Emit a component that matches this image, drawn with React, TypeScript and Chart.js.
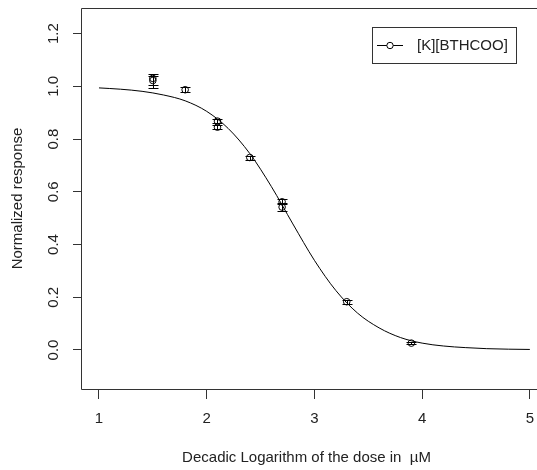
import { useEffect, useRef } from "react";
import { Chart, registerables } from "chart.js";

Chart.register(...registerables);

// Observed data (log10 dose, normalized response) with error bar limits
const pointX = [1.5, 1.5, 1.8, 2.1, 2.1, 2.4, 2.7, 2.7, 3.3, 3.9];
const pointY = [1.022, 1.03, 0.987, 0.868, 0.845, 0.73, 0.562, 0.542, 0.183, 0.026];
const errLow = [0.995, 1.005, 0.978, 0.86, 0.838, 0.722, 0.552, 0.527, 0.175, 0.022];
const errHigh = [1.045, 1.038, 0.996, 0.876, 0.852, 0.737, 0.572, 0.557, 0.19, 0.029];

// Fitted dose-response curve
const curveX = [1.0, 1.2, 1.4, 1.6, 1.8, 2.0, 2.2, 2.4, 2.6, 2.8, 3.0, 3.2, 3.4, 3.6, 3.8, 4.0, 4.2, 4.4, 4.6, 4.8, 5.0];
const curveY = [0.994, 0.989, 0.981, 0.967, 0.945, 0.905, 0.84, 0.745, 0.62, 0.478, 0.34, 0.225, 0.14, 0.084, 0.047, 0.026, 0.015, 0.009, 0.005, 0.003, 0.002];

const xTicks = [1, 2, 3, 4, 5];
const yTicks = [0, 0.2, 0.4, 0.6, 0.8, 1.0, 1.2];

const seriesName = "[K][BTHCOO]";
const xTitle = "Decadic Logarithm of the dose in  µM";
const yTitle = "Normalized response";

const FONT = "'Liberation Sans', Arial, sans-serif";
const INK = "#222";

export default function App() {
  const ref = useRef<HTMLCanvasElement>(null);

  useEffect(() => {
    document.body.style.margin = "0";
    const canvas = ref.current!;

    const framePlugin = {
      id: "frame",
      afterDraw(chart: any) {
        const { ctx, chartArea: a } = chart;
        ctx.save();
        ctx.strokeStyle = "#333";
        ctx.lineWidth = 1;
        ctx.beginPath();
        ctx.moveTo(chart.width, Math.round(a.top) + 0.5);
        ctx.lineTo(Math.round(a.left) + 0.5, Math.round(a.top) + 0.5);
        ctx.lineTo(Math.round(a.left) + 0.5, Math.round(a.bottom) + 0.5);
        ctx.lineTo(chart.width, Math.round(a.bottom) + 0.5);
        ctx.stroke();
        ctx.restore();
      },
    };

    const errorBarPlugin = {
      id: "errorBars",
      afterDatasetsDraw(chart: any) {
        const { ctx } = chart;
        const xs = chart.scales.x;
        const ys = chart.scales.y;
        ctx.save();
        ctx.strokeStyle = "#000";
        ctx.lineWidth = 1;
        for (let i = 0; i < pointX.length; i++) {
          const px = Math.round(xs.getPixelForValue(pointX[i])) + 0.5;
          const yl = Math.round(ys.getPixelForValue(errLow[i])) + 0.5;
          const yh = Math.round(ys.getPixelForValue(errHigh[i])) + 0.5;
          ctx.beginPath();
          ctx.moveTo(px, yl);
          ctx.lineTo(px, yh);
          ctx.moveTo(px - 5, yl);
          ctx.lineTo(px + 5, yl);
          ctx.moveTo(px - 5, yh);
          ctx.lineTo(px + 5, yh);
          ctx.stroke();
        }
        ctx.restore();
      },
    };

    const legendPlugin = {
      id: "rlegend",
      afterDraw(chart: any) {
        const { ctx } = chart;
        ctx.save();
        ctx.strokeStyle = "#333";
        ctx.lineWidth = 1;
        ctx.strokeRect(372.5, 27.5, 144, 36);
        ctx.strokeStyle = "#000";
        ctx.beginPath();
        ctx.moveTo(377, 45.5);
        ctx.lineTo(403, 45.5);
        ctx.stroke();
        ctx.fillStyle = "#fff";
        ctx.beginPath();
        ctx.arc(390, 45.5, 3.2, 0, Math.PI * 2);
        ctx.fill();
        ctx.stroke();
        ctx.fillStyle = INK;
        ctx.font = `15px ${FONT}`;
        ctx.textBaseline = "middle";
        ctx.textAlign = "left";
        ctx.fillText(seriesName, 417, 46);
        ctx.restore();
      },
    };

    const chart = new Chart(canvas, {
      type: "scatter",
      data: {
        datasets: [
          {
            type: "line",
            label: "fit",
            data: curveX.map((x, i) => ({ x, y: curveY[i] })),
            borderColor: "#000",
            borderWidth: 1,
            pointRadius: 0,
            cubicInterpolationMode: "monotone",
            fill: false,
          },
          {
            type: "scatter",
            label: seriesName,
            data: pointX.map((x, i) => ({ x, y: pointY[i] })),
            borderColor: "#000",
            backgroundColor: "rgba(0,0,0,0)",
            borderWidth: 1,
            pointRadius: 3.3,
            pointStyle: "circle",
          },
        ],
      } as any,
      options: {
        responsive: false,
        animation: false,
        devicePixelRatio: 1,
        layout: { padding: { top: 8, right: 0, bottom: 0, left: 0 } },
        plugins: {
          legend: { display: false },
          tooltip: { enabled: false },
        },
        font: { family: FONT },
        scales: {
          x: {
            type: "linear",
            min: 0.833,
            max: 5.02,
            afterBuildTicks: (s: any) => {
              s.ticks = xTicks.map((v) => ({ value: v }));
            },
            afterFit: (s: any) => {
              s.height = 81;
              s.paddingLeft = 0;
              s.paddingRight = 0;
            },
            grid: {
              drawOnChartArea: false,
              drawTicks: true,
              tickLength: 10,
              color: "#333",
            },
            border: { display: false },
            ticks: {
              padding: 11,
              color: INK,
              autoSkip: false,
              maxRotation: 0,
              font: { family: FONT, size: 15 },
              callback: (v: any) => String(v),
            },
            title: {
              display: true,
              text: xTitle,
              color: INK,
              font: { family: FONT, size: 15 },
              padding: { top: 0, bottom: 3 },
            },
          },
          y: {
            type: "linear",
            min: -0.148,
            max: 1.297,
            afterBuildTicks: (s: any) => {
              s.ticks = yTicks.map((v) => ({ value: v }));
            },
            afterFit: (s: any) => {
              s.width = 81;
              s.paddingTop = 0;
              s.paddingBottom = 0;
            },
            grid: {
              drawOnChartArea: false,
              drawTicks: true,
              tickLength: 8,
              color: "#333",
            },
            border: { display: false },
            ticks: {
              padding: 9,
              color: INK,
              autoSkip: false,
              minRotation: 90,
              maxRotation: 90,
              crossAlign: "center",
              font: { family: FONT, size: 15 },
              callback: (v: any) => Number(v).toFixed(1),
            },
            title: {
              display: true,
              text: yTitle,
              color: INK,
              font: { family: FONT, size: 15 },
              padding: { top: 9, bottom: 0 },
            },
          },
        },
      } as any,
      plugins: [framePlugin, errorBarPlugin, legendPlugin],
    });

    return () => chart.destroy();
  }, []);

  return (
    <div style={{ width: 537, height: 470, overflow: "hidden" }}>
      <canvas ref={ref} width={537} height={470} style={{ display: "block" }} />
    </div>
  );
}
